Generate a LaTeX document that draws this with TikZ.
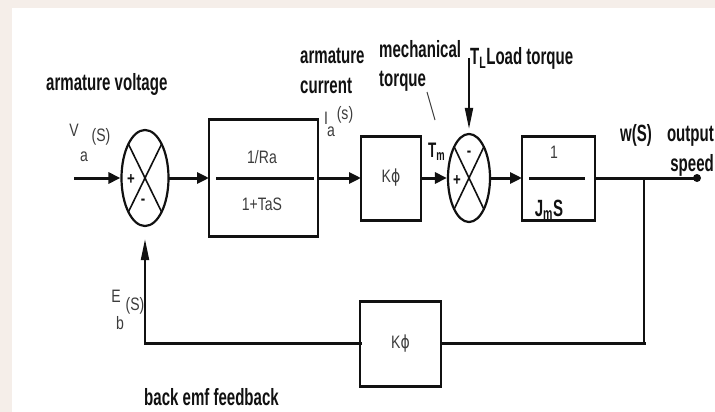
\documentclass[tikz,border=0pt]{standalone}
\usepackage{fontspec}
\setmainfont{Liberation Sans}[FakeStretch=0.78]
\newfontfamily\tagfont{Liberation Sans}[FakeStretch=0.64]
\newfontfamily\phifont{DejaVu Sans}[FakeStretch=0.78]
\usetikzlibrary{arrows.meta, shapes.geometric}
\definecolor{ink}{HTML}{111111}
\definecolor{grayB}{HTML}{3C3C3C}
\definecolor{wash}{HTML}{F5EEE9}
\tikzset{
  tag/.style={font=\tagfont\bfseries\fontsize{23.5}{29.5}\selectfont, text=ink, inner sep=0pt, align=left},
  sig/.style={font=\fontsize{18}{19}\selectfont, text=grayB, inner sep=0pt},
  sign/.style={font=\bfseries\fontsize{17}{18}\selectfont, text=ink, inner sep=0pt},
  block/.style={draw=ink, line width=1.6pt, inner sep=0pt, outer sep=0pt, text=grayB,
    font=\fontsize{18}{19}\selectfont,
    append after command={(\tikzlastnode.north west) edge[draw=ink, line width=3pt, shorten <=-0.8pt, shorten >=-0.8pt] (\tikzlastnode.north east)
      (\tikzlastnode.south west) edge[draw=ink, line width=3pt, shorten <=-0.8pt, shorten >=-0.8pt] (\tikzlastnode.south east)}},
  sumjn/.style={ellipse, draw=ink, line width=2.2pt, inner sep=0pt,
    path picture={\draw[ink, line width=1.6pt] (path picture bounding box.north west) -- (path picture bounding box.south east)
      (path picture bounding box.north east) -- (path picture bounding box.south west);}},
  dot/.style={circle, fill=ink, minimum size=8pt, inner sep=0pt},
  hline/.style={draw=ink, line width=3pt, line cap=rect},
  vline/.style={draw=ink, line width=2pt},
  harrow/.style={-{Triangle[length=12pt, width=11pt]}},
  varrow/.style={-{Triangle[length=21pt, width=8pt]}}
}

\begin{document}
\begin{tikzpicture}[x=1pt,y=-1pt]
\useasboundingbox (0,0) rectangle (715,412);
\fill[wash] (0,0) rectangle (715,8);
\fill[wash] (0,8) rectangle (12,412);

\node[tag, anchor=base west] (avlab) at (46,90) {armature voltage};
\node[tag, anchor=base west] (aclab) at (300,93) {armature\\current};
\node[tag, anchor=base west] (mtlab) at (379,87) {mechanical\\torque};
\node[tag, anchor=base west] (ltlab) at (470,65) {T\textsubscript{L}Load torque};
\node[tag, anchor=base west] (wslab) at (620,141) {w(S)};
\node[tag, anchor=base east, align=right] (oslab) at (714,171) {output\\speed};
\node[tag, anchor=base west] (bflab) at (144,405) {back emf feedback};
\node[tag, font=\tagfont\bfseries\fontsize{21}{22}\selectfont, anchor=base west] (tmlab) at (428,157) {T\textsubscript{m}};

\node[sig] (va) at (74,130) {V};
\node[sig] (vasub) at (84,157) {a};
\node[sig] (vaarg) at (101,137) {(S)};
\node[sig] (ia) at (326,118) {I};
\node[sig] (iasub) at (331,132) {a};
\node[sig] (iaarg) at (345,115) {(s)};
\node[sig] (eb) at (116,296) {E};
\node[sig] (ebsub) at (120,323) {b};
\node[sig] (ebarg) at (135,306) {(S)};

\node[sumjn, minimum width=47pt, minimum height=96pt] (sumA) at (145,178) {};
\node[block, minimum width=109pt, minimum height=117pt] (ratf) at (263.5,178) {};
\node[block, minimum width=60pt, minimum height=84pt] (kphi) at (391,178) {K{\phifont ϕ}};
\node[sumjn, minimum width=42pt, minimum height=88pt] (sumB) at (469,178) {};
\node[block, minimum width=73pt, minimum height=84pt] (inert) at (558.5,178) {};
\node[block, minimum width=81pt, minimum height=85pt] (kfb) at (400.5,343.5) {K{\phifont ϕ}};
\node[dot] (wout) at (697,178) {};

\node[sign] (sApl) at (131,180) {+};
\node[sign] (sAmi) at (143,202) {-};
\node[sign] (sBpl) at (457,181) {+};
\node[sign] (sBmi) at (469,154) {-};

\node[sig] (ranum) at (262,157) {1/Ra};
\node[sig] (raden) at (262,204) {1+TaS};
\node[sig] (jnum) at (554,152) {1};
\node[tag, anchor=base] (jden) at (549,216) {J\textsubscript{m}S};
\draw[hline] ([xshift=8pt]ratf.west) -- ([xshift=-6pt]ratf.east);
\draw[hline] ([xshift=8pt]inert.west) -- ([xshift=-12pt]inert.east);

\coordinate (vin) at (75,178);
\coordinate (tlin) at (469,58);
\coordinate (branch) at (644,178);
\coordinate (fbr) at (branch |- kfb.east);
\coordinate (fbl) at (sumA.south |- kfb.west);
\coordinate (leadA) at (427,92);
\coordinate (leadB) at (435,120);

\draw[hline, harrow] (vin) -- (sumA.west);
\draw[hline, harrow] (sumA.east) -- (ratf.west);
\draw[hline, harrow] (ratf.east) -- (kphi.west);
\draw[hline, harrow] (kphi.east) -- (sumB.west);
\draw[hline, harrow] (sumB.east) -- (inert.west);
\draw[hline] (inert.east) -- (wout);
\draw[vline] (branch) -- (fbr);
\draw[hline] (fbr) -- (kfb.east);
\draw[hline] (kfb.west) -- (fbl);
\draw[vline, varrow, shorten >=12pt] (fbl) -- (sumA.south);
\draw[vline, varrow, shorten >=4pt] (tlin) -- (sumB.north);
\draw[grayB, line width=1pt] (leadA) -- (leadB);
\end{tikzpicture}
\end{document}
